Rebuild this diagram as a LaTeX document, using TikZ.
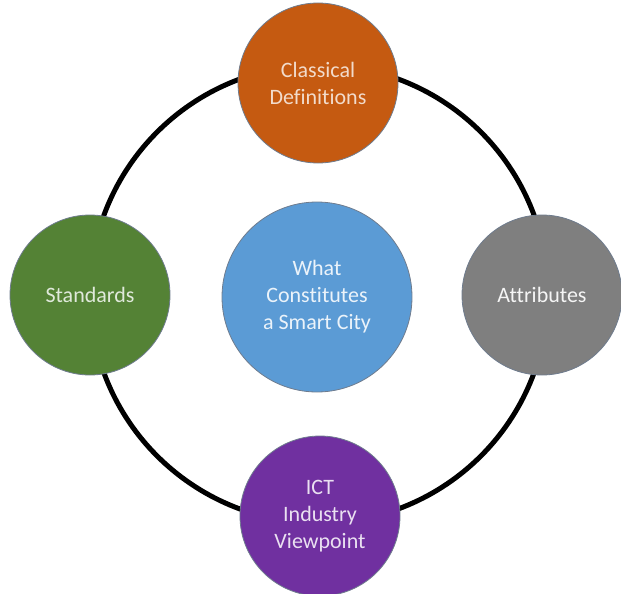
\documentclass[tikz,border=0pt]{standalone}
\usepackage{fontspec}
\setmainfont[Ligatures=NoCommon]{Carlito}
\definecolor{defOrange}{HTML}{C55A11}
\definecolor{stdGreen}{HTML}{548235}
\definecolor{attGrey}{HTML}{7F7F7F}
\definecolor{ictPurple}{HTML}{7030A0}
\definecolor{cityBlue}{HTML}{5B9BD5}
\definecolor{rimGrey}{HTML}{6F7C8E}

\begin{document}
\begin{tikzpicture}[
x=1pt, y=-1pt,
bubble/.style={
circle, draw=rimGrey, line width=0.8pt,
minimum size=160pt, inner sep=0pt, align=center,
font=\fontsize{22}{27}\selectfont
},
ring/.style={black, line width=5pt}
]

\useasboundingbox (0,0) rectangle (621,594);

\coordinate (C) at (319,294);
\draw[ring] (C) circle (229pt);

\node[bubble, fill=cityBlue, text=white!88!cityBlue, minimum size=190pt] (city) at (317,297) {What\\Constitutes\\a Smart City};
\node[bubble, fill=defOrange, text=white!78!defOrange] (defs) at (318,83) {Classical\\Definitions};
\node[bubble, fill=stdGreen, text=white!82!stdGreen] (std) at (90,295) {Standards};
\node[bubble, fill=attGrey, text=white!92!attGrey] (attr) at (542,295) {Attributes};
\node[bubble, fill=ictPurple, text=white!85!ictPurple] (ict) at (320,516) {ICT\\Industry\\Viewpoint};
\end{tikzpicture}
\end{document}
